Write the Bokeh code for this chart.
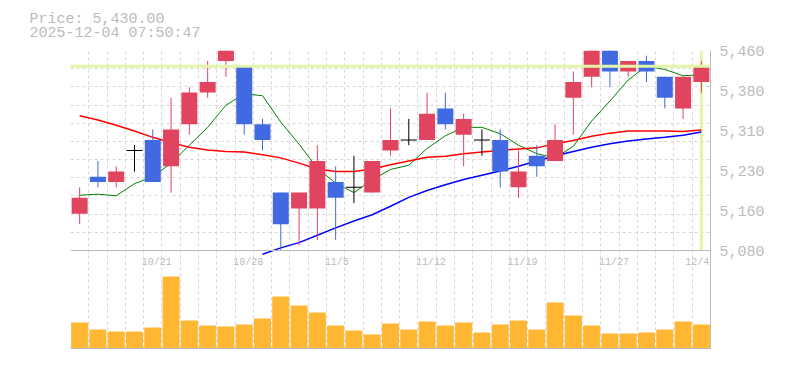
import math
from bokeh.plotting import figure
from bokeh.models import Range1d, FixedTicker, Span, Title, ColumnDataSource, LabelSet
from bokeh.core.properties import value
from bokeh.embed import file_html
from bokeh.resources import INLINE

# ---------------- data ----------------
dates = ["10/15", "10/16", "10/17", "10/20", "10/21", "10/22", "10/23", "10/24",
         "10/27", "10/28", "10/29", "10/30", "10/31", "11/4", "11/5", "11/6",
         "11/7", "11/10", "11/11", "11/12", "11/13", "11/14", "11/17", "11/18",
         "11/19", "11/20", "11/21", "11/25", "11/26", "11/27", "11/28", "12/1",
         "12/2", "12/3", "12/4"]
opens = [5150, 5220, 5210, 5270, 5290, 5240, 5320, 5380, 5440, 5430, 5320, 5190,
         5160, 5160, 5210, 5200, 5190, 5270, 5290, 5290, 5350, 5300, 5290, 5290,
         5200, 5260, 5250, 5370, 5410, 5480, 5420, 5440, 5410, 5350, 5400]
highs = [5200, 5250, 5240, 5280, 5310, 5370, 5390, 5440, 5490, 5430, 5330, 5190,
         5190, 5280, 5240, 5260, 5250, 5350, 5330, 5380, 5380, 5340, 5310, 5310,
         5270, 5280, 5320, 5420, 5480, 5490, 5440, 5450, 5410, 5410, 5440]
lows = [5130, 5200, 5200, 5230, 5210, 5190, 5300, 5370, 5410, 5300, 5270, 5080,
        5090, 5100, 5100, 5170, 5190, 5260, 5280, 5290, 5310, 5240, 5260, 5200,
        5180, 5220, 5250, 5300, 5390, 5390, 5410, 5400, 5350, 5330, 5380]
closes = [5180, 5210, 5230, 5270, 5210, 5310, 5380, 5400, 5480, 5320, 5290, 5130,
          5190, 5250, 5180, 5200, 5250, 5290, 5290, 5340, 5320, 5330, 5290, 5230,
          5230, 5240, 5290, 5400, 5470, 5420, 5440, 5420, 5370, 5410, 5430]
ma_short = [5185, 5187, 5184, 5207, 5220, 5246, 5280, 5314, 5356, 5378, 5374, 5324,
            5282, 5236, 5208, 5190, 5214, 5234, 5242, 5274, 5298, 5314, 5314, 5302,
            5280, 5264, 5256, 5278, 5326, 5364, 5404, 5430, 5424, 5412, 5414]
ma_mid = [5336, 5328, 5318, 5307, 5295, 5285, 5276, 5271, 5268, 5267, 5262, 5256,
          5246, 5235, 5230, 5230, 5235, 5243, 5250, 5257, 5259, 5264, 5267, 5270,
          5273, 5275, 5283, 5289, 5297, 5303, 5307, 5307, 5307, 5306, 5309]
nan = float("nan")
ma_long = [nan, nan, nan, nan, nan, nan, nan, nan, nan, nan, 5073, 5085,
           5095, 5109, 5123, 5136, 5148, 5164, 5181, 5194, 5205, 5215, 5223, 5231,
           5240, 5250, 5260, 5268, 5276, 5283, 5288, 5292, 5295, 5299, 5305]
volumes = [75000, 54000, 48000, 48000, 60000, 213000, 81000, 66000, 63000, 69000,
           87000, 153000, 126000, 105000, 66000, 51000, 39000, 72000, 54000, 78000,
           66000, 75000, 45000, 69000, 81000, 54000, 135000, 96000, 66000, 42000,
           42000, 45000, 54000, 78000, 69000]
ytick_values = [5080, 5156, 5232, 5308, 5384, 5460]
ytick_labels = ["5,080", "5,160", "5,230", "5,310", "5,380", "5,460"]
label_every = 5
label_first = 4
price_text = "Price: 5,430.00"
time_text = "2025-12-04 07:50:47"

# ---------------- layout / style constants ----------------
FRAME_W, FRAME_H = 640, 298
PRICE_PX = 200            # pixel height of the price panel
Y_MIN, Y_TOP = ytick_values[0], ytick_values[-1]
PPX = (Y_TOP - Y_MIN) / PRICE_PX
VPX = 3000                # volume per pixel
FONT = "Liberation Mono"
TXT = "#bbbbbb"
GRID = "#d6d6d6"
UP = "#e0445f"
DOWN = "#4169e1"

N = len(dates)
xs = list(range(N))

p = figure(frame_width=FRAME_W, frame_height=FRAME_H, output_backend="svg",
           toolbar_location=None, y_axis_location="right",
           x_range=Range1d(-0.5, N - 0.5),
           y_range=Range1d(Y_TOP - FRAME_H * PPX, Y_TOP),
           min_border_left=70, min_border_right=4, min_border_top=0,
           min_border_bottom=4)
p.outline_line_color = None
p.extra_y_ranges = {"vol": Range1d(-1500, -1500 + FRAME_H * VPX)}

# title (two lines)
title = Title(text=price_text + "\n" + time_text, align="left", offset=-41,
              text_font=FONT, text_font_size="15px", text_color=TXT,
              text_font_style="normal", text_line_height=0.85, standoff=17)
p.add_layout(title, "above")

# grids
p.xgrid.ticker = FixedTicker(ticks=[i - 0.5 for i in range(N + 1)])
n_grid = 11
p.ygrid.ticker = FixedTicker(ticks=[Y_MIN + k * (Y_TOP - Y_MIN) / n_grid for k in range(n_grid + 1)])
for g in (p.xgrid, p.ygrid):
    g.grid_line_color = GRID
    g.grid_line_dash = "3 3"
    g.grid_line_width = 1

# axes
p.yaxis.ticker = FixedTicker(ticks=ytick_values)
p.yaxis.major_label_overrides = {v: l for v, l in zip(ytick_values, ytick_labels)}
p.yaxis.axis_line_color = TXT
p.yaxis.major_tick_line_color = None
p.yaxis.minor_tick_line_color = None
p.yaxis.major_label_standoff = 3
p.yaxis.major_label_text_font = FONT
p.yaxis.major_label_text_font_size = "15px"
p.yaxis.major_label_text_color = TXT
p.xaxis.ticker = FixedTicker(ticks=[])
p.xaxis.axis_line_color = TXT
p.xaxis.major_tick_line_color = None
p.xaxis.minor_tick_line_color = None
p.xaxis.major_label_text_font_size = "0px"

# volume bars
p.vbar(x=xs, top=volumes, bottom=0, width=0.875, color="#ffb733",
       y_range_name="vol")

# panel separator
p.add_layout(Span(location=Y_MIN, dimension="width", line_color=TXT, line_width=1))

# current price lines
last = N - 1
p.add_layout(Span(location=closes[-1], dimension="width", line_color="#e3f5a9",
                  line_width=3))
p.segment(x0=[last], y0=[Y_MIN], x1=[last], y1=[Y_TOP], line_color="#e3f5a9",
          line_width=3)

# moving averages
p.line(xs, ma_short, line_color="green", line_width=1)
p.line(xs, ma_mid, line_color="red", line_width=1.5)
p.line(xs, ma_long, line_color="blue", line_width=1.5)

# candles
up = [i for i in xs if closes[i] > opens[i]]
dn = [i for i in xs if closes[i] < opens[i]]
dj = [i for i in xs if closes[i] == opens[i]]

def sub(idx, arr):
    return [arr[i] for i in idx]

for idx, col in ((up, UP), (dn, DOWN), (dj, "black")):
    p.segment(x0=idx, y0=sub(idx, highs), x1=idx, y1=sub(idx, lows),
              line_color=col, line_width=1)
p.vbar(x=up, top=sub(up, closes), bottom=sub(up, opens), width=0.875,
       fill_color=UP, line_color=None)
p.vbar(x=dn, top=sub(dn, opens), bottom=sub(dn, closes), width=0.875,
       fill_color=DOWN, line_color=None)
p.rect(x=dj, y=sub(dj, closes), width=0.875, height=1, height_units="screen",
       fill_color="black", line_color=None)

# date labels inside the volume panel (last one nudged left so it stays visible)
lab_idx = list(range(label_first, N, label_every))
offs = [-16 if i == last else -11 for i in lab_idx]
src = ColumnDataSource(dict(x=lab_idx, y=[Y_MIN - 11.5 * PPX] * len(lab_idx),
                            t=[dates[i] for i in lab_idx], dx=offs))
labels = LabelSet(x="x", y="y", text="t", source=src, text_font=value(FONT),
                  text_font_size="10px", text_color=TXT, text_align="left",
                  text_baseline="middle", x_offset="dx")
p.add_layout(labels)

open("out.html", "w").write(file_html(p, INLINE))
